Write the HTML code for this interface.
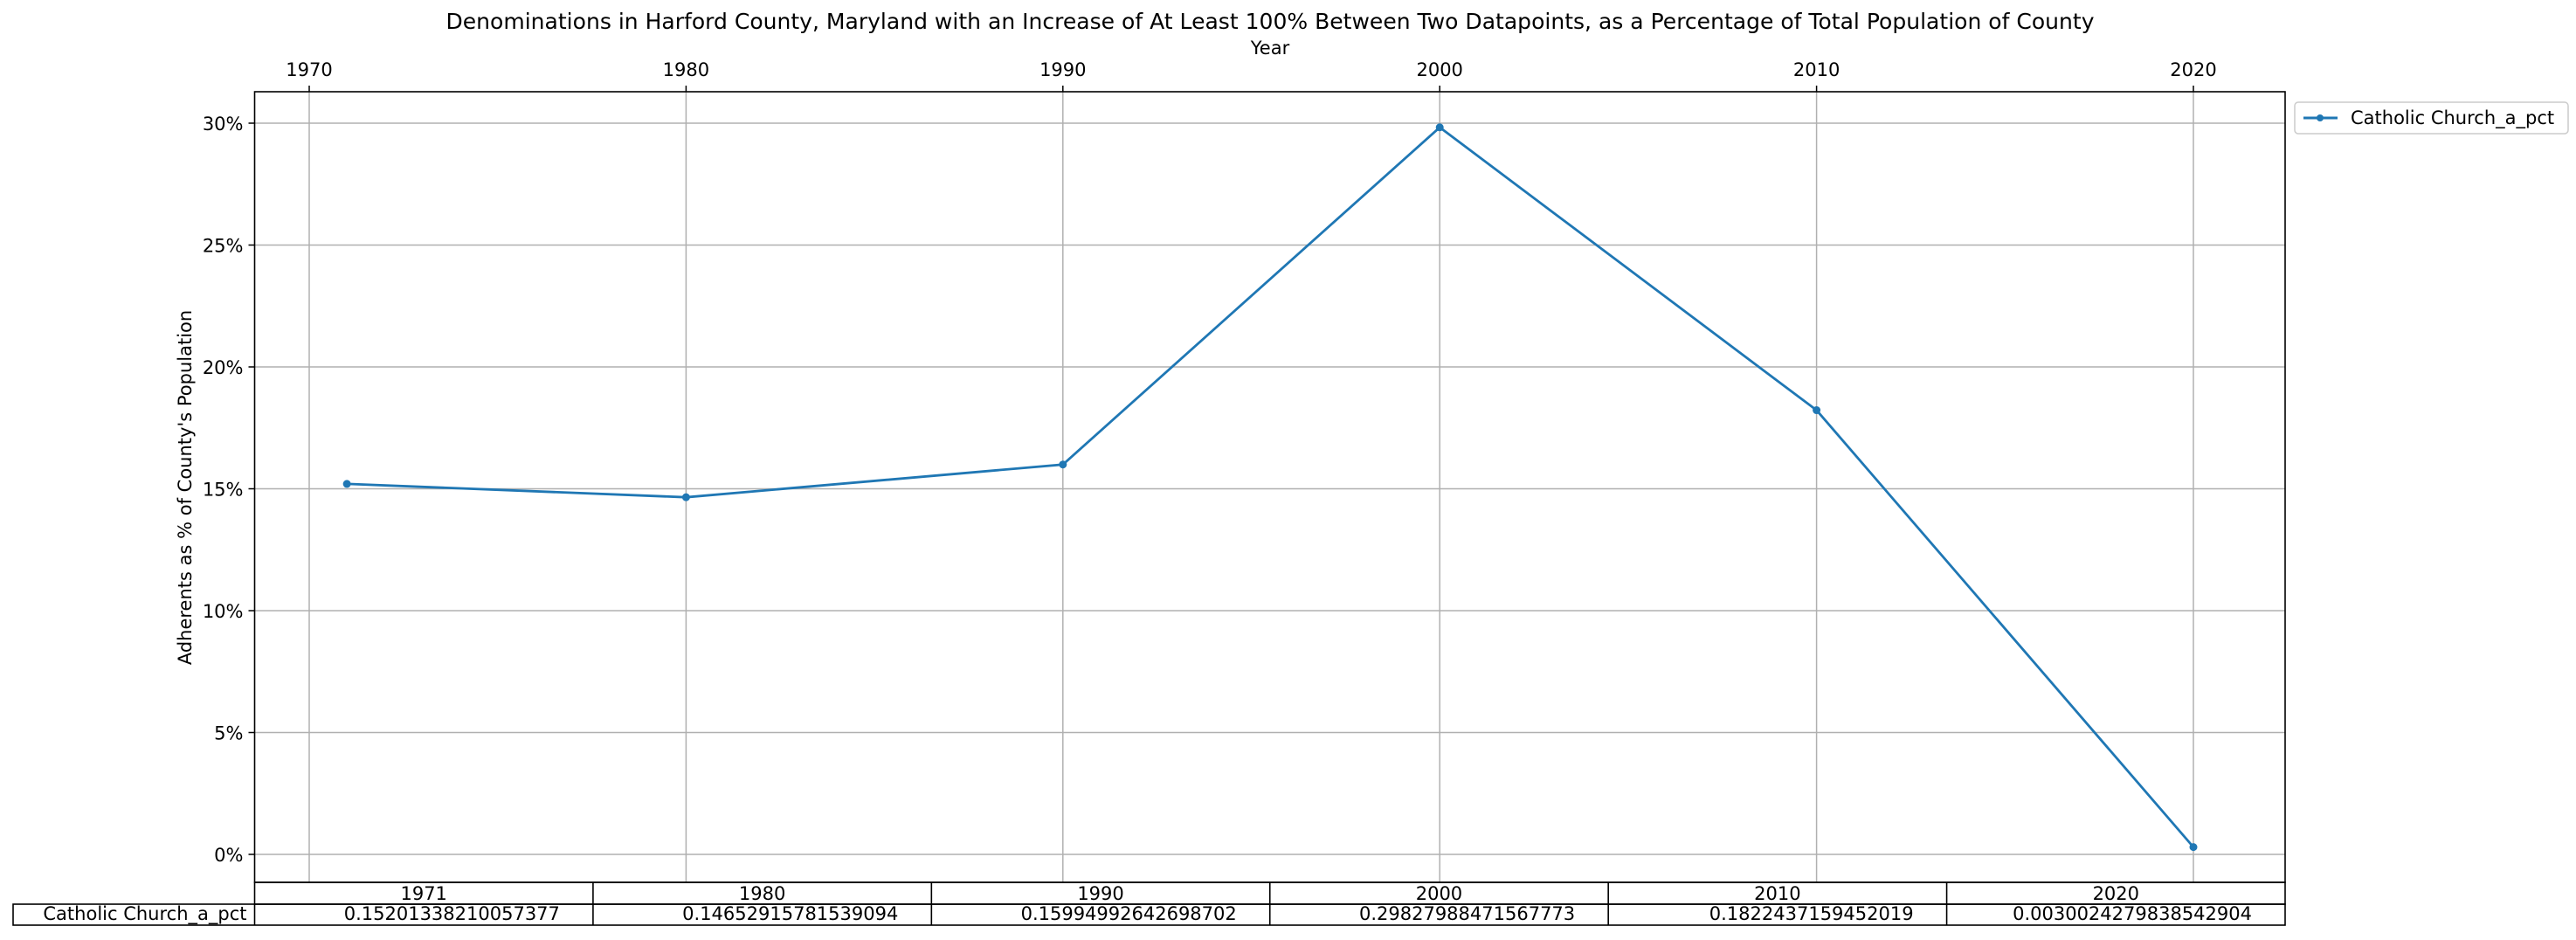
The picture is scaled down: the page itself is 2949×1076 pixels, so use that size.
<!DOCTYPE html>
<html><head><meta charset="utf-8"><style>
body{margin:0;background:#fff}
svg{display:block;font-family:"DejaVu Sans","Liberation Sans",sans-serif}
</style></head><body>
<svg id="chart" width="2949" height="1076" viewBox="0 0 2949 1076">
<text x="1454" y="33" font-size="25" text-anchor="middle" textLength="1887">Denominations in Harford County, Maryland with an Increase of At Least 100% Between Two Datapoints, as a Percentage of Total Population of County</text>
<text x="1454" y="62" font-size="21" text-anchor="middle">Year</text>
<text transform="translate(219,558) rotate(-90)" font-size="21" text-anchor="middle">Adherents as % of County's Population</text>
<g id="grid"></g>
<g id="series"></g>
<rect x="291.5" y="105" width="2324.5" height="905" fill="none" stroke="#000" stroke-width="1.6"/>
<g id="table"></g>
<g>
<rect x="2627" y="117" width="313" height="36" rx="4" fill="#fff" stroke="#ccc" stroke-width="1.5"/>
<line x1="2637" y1="135" x2="2676" y2="135" stroke="#1f77b4" stroke-width="3"/>
<circle cx="2656" cy="135" r="4" fill="#1f77b4"/>
<text x="2691" y="142" font-size="21">Catholic Church_a_pct</text>
</g>
</svg>
<script>
const years = [1971, 1980, 1990, 2000, 2010, 2020];
const values = [0.15201338210057377, 0.14652915781539094, 0.15994992642698702, 0.29827988471567773, 0.1822437159452019, 0.0030024279838542904];
const valueLabels = ["0.15201338210057377","0.14652915781539094","0.15994992642698702","0.29827988471567773","0.1822437159452019","0.0030024279838542904"];
const xTicks = [1970, 1980, 1990, 2000, 2010, 2020];
const yTicks = [0, 0.05, 0.10, 0.15, 0.20, 0.25, 0.30];
const yTickLabels = ["0%","5%","10%","15%","20%","25%","30%"];
const seriesName = "Catholic Church_a_pct";

const NS = "http://www.w3.org/2000/svg";
const L = 291.5, R = 2616, T = 105, B = 1010;
function xs(y){ return 354 + (y - 1970) * (2511 - 354) / 50; }
function ys(v){ return 978 - v * (978 - 141) / 0.30; }
function mk(tag, attrs, parent){ const e = document.createElementNS(NS, tag); for (const k in attrs) e.setAttribute(k, attrs[k]); parent.appendChild(e); return e; }

const grid = document.getElementById('grid');
xTicks.forEach((t, i) => {
  const x = xs(t);
  const g = mk('line', {x1:x, x2:x, y1:T, y2:B, stroke:'#b0b0b0', 'stroke-width':1.5}, grid);
  
  
  const tk = mk('line', {x1:x, x2:x, y1:T-7, y2:T, stroke:'#000', 'stroke-width':1.5}, grid);
  
  
  const lb = mk('text', {x:x, y:T-18, 'font-size':21, 'text-anchor':'middle'}, grid);
  lb.textContent = String(t);
  
  
});
yTicks.forEach((t, i) => {
  const y = ys(t);
  const g = mk('line', {x1:L, x2:R, y1:y, y2:y, stroke:'#b0b0b0', 'stroke-width':1.5}, grid);
  
  
  const tk = mk('line', {x1:L-7, x2:L, y1:y, y2:y, stroke:'#000', 'stroke-width':1.5}, grid);
  
  
  const lb = mk('text', {x:L-13, y:y+8, 'font-size':21, 'text-anchor':'end'}, grid);
  lb.textContent = yTickLabels[i];
  
  
});

const series = document.getElementById('series');
const pts = years.map((y, i) => xs(y) + ',' + ys(values[i])).join(' ');
const pl = mk('polyline', {points:pts, fill:'none', stroke:'#1f77b4', 'stroke-width':2.8}, series);


years.forEach((y, i) => {
  const c = mk('circle', {cx:xs(y), cy:ys(values[i]), r:4.5, fill:'#1f77b4'}, series);
  
  
});

const table = document.getElementById('table');
const colW = (R - L) / years.length;
const r1 = 1010, r2 = 1035, r3 = 1059;
const hb = mk('rect', {x:L, y:r1, width:R-L, height:r2-r1, fill:'none', stroke:'#000', 'stroke-width':1.6}, table);


const db = mk('rect', {x:15, y:r2, width:R-15, height:r3-r2, fill:'none', stroke:'#000', 'stroke-width':1.6}, table);


const sep = mk('line', {x1:L, x2:L, y1:r2, y2:r3, stroke:'#000', 'stroke-width':1.6}, table);


const rl = mk('text', {x:L-9, y:r3-6, 'font-size':21, 'text-anchor':'end'}, table);
rl.textContent = seriesName;


years.forEach((y, i) => {
  const x0 = L + i * colW;
  if (i > 0) {
    const d = mk('line', {x1:x0, x2:x0, y1:r1, y2:r3, stroke:'#000', 'stroke-width':1.6}, table);
    
    
  }
  const h = mk('text', {x:x0 + colW/2, y:r2-5, 'font-size':21, 'text-anchor':'middle'}, table);
  h.textContent = String(y);
  
  
  const v = mk('text', {x:x0 + colW - 38, y:r3-6, 'font-size':21, 'text-anchor':'end'}, table);
  v.textContent = valueLabels[i];
  
  
});
</script>
</body></html>
